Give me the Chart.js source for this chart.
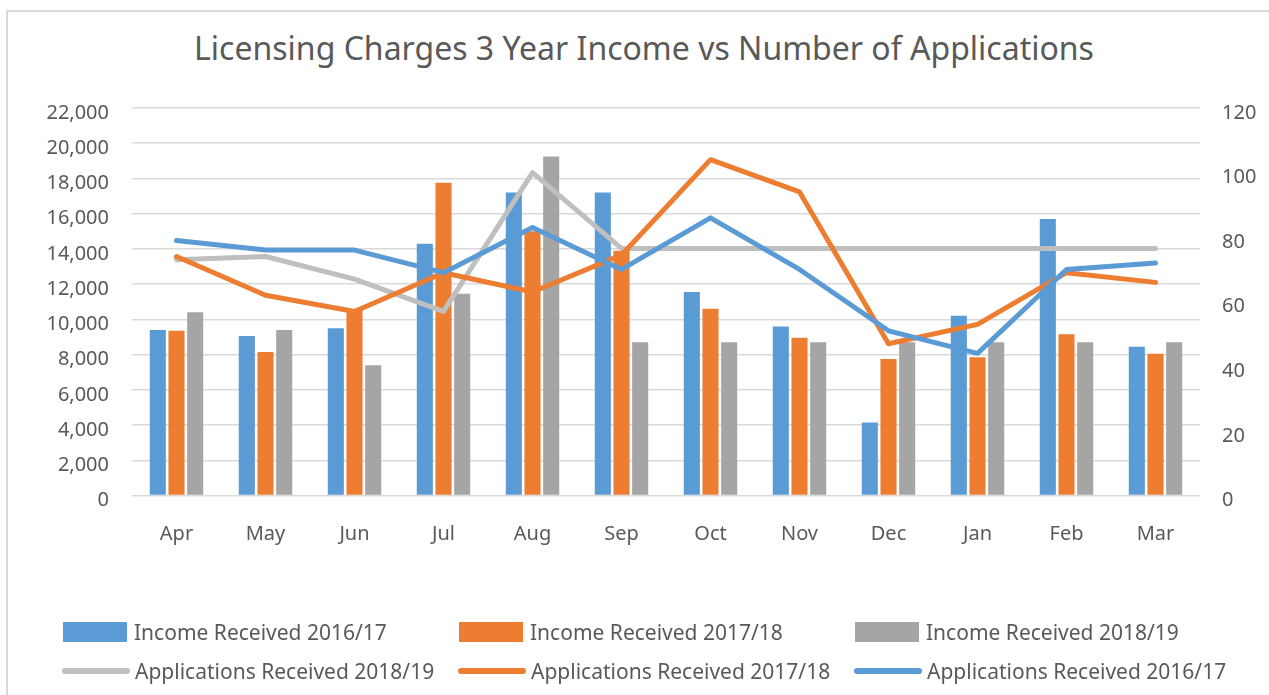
<!DOCTYPE html>
<html>
<head>
<meta charset="utf-8">
<script src="https://cdn.jsdelivr.net/npm/chart.js@4.4.0/dist/chart.umd.min.js"></script>
<style>
    html, body { margin: 0; padding: 0; background: #ffffff; }
    body { width: 1269px; height: 695px; position: relative; overflow: hidden; font-family: 'Noto Sans', sans-serif; }
    #frame { position: absolute; left: 6px; top: 10px; width: 1290px; height: 700px; border: 2px solid #d9d9d9; box-sizing: border-box; }
    #title { position: absolute; left: 144px; width: 1000px; top: 29px; text-align: center; font-size: 32px; line-height: 38px; color: #595959; white-space: nowrap; }
    #chart-wrap { position: absolute; left: 0; top: 0; width: 1269px; height: 600px; }
    #legend { position: absolute; left: 0; top: 0; width: 1269px; height: 695px; pointer-events: none; }
    .legend-item { position: absolute; display: flex; align-items: center; font-size: 21px; color: #595959; white-space: nowrap; height: 30px; }
    .swatch-box { width: 64px; height: 20px; margin-right: 7px; }
    .swatch-line { width: 68px; height: 6px; border-radius: 3px; margin-right: 5px; }
</style>
</head>
<body>
<div id="frame"></div>
<div id="title">Licensing Charges 3 Year Income vs Number of Applications</div>
<div id="chart-wrap"><canvas id="licChart" width="1269" height="600"></canvas></div>
<div id="legend"></div>
<script>
const months = ['Apr', 'May', 'Jun', 'Jul', 'Aug', 'Sep', 'Oct', 'Nov', 'Dec', 'Jan', 'Feb', 'Mar'];

const income1617 = [9400, 9050, 9500, 14300, 17200, 17200, 11550, 9600, 4150, 10200, 15700, 8450];
const income1718 = [9350, 8150, 10500, 17750, 15000, 13900, 10600, 8950, 7750, 7850, 9150, 8050];
const income1819 = [10400, 9400, 7400, 11450, 19250, 8700, 8700, 8700, 8700, 8700, 8700, 8700];

const apps1819 = [73, 74, 67, 57, 100, 76.5, 76.5, 76.5, 76.5, 76.5, 76.5, 76.5];
const apps1718 = [74, 62, 57, 69, 63, 74.5, 104, 94, 47, 53, 69, 66];
const apps1617 = [79, 76, 76, 69, 83, 70, 86, 70, 51, 44, 70, 72];

const blue = '#5b9bd5';
const orange = '#ed7d31';
const grayBar = '#a5a5a5';
const grayLine = '#bfbfbf';
const textColor = '#595959';

function barSet(label, data, color) {
    return {
        type: 'bar', label: label, data: data, yAxisID: 'y',
        backgroundColor: color, borderWidth: 0,
        barPercentage: 0.86, categoryPercentage: 0.63, order: 4
    };
}

function lineSet(label, data, color, order) {
    return {
        type: 'line', label: label, data: data, yAxisID: 'y1',
        borderColor: color, backgroundColor: color, borderWidth: 5,
        pointRadius: 0, tension: 0, borderCapStyle: 'round', borderJoinStyle: 'round',
        order: order
    };
}

const datasets = [
    barSet('Income Received 2016/17', income1617, blue),
    barSet('Income Received 2017/18', income1718, orange),
    barSet('Income Received 2018/19', income1819, grayBar),
    lineSet('Applications Received 2018/19', apps1819, grayLine, 3),
    lineSet('Applications Received 2017/18', apps1718, orange, 2),
    lineSet('Applications Received 2016/17', apps1617, blue, 1)
];

const tickFont = { family: 'Noto Sans', size: 20 };

new Chart(document.getElementById('licChart').getContext('2d'), {
    data: { labels: months, datasets: datasets },
    options: {
        responsive: false,
        animation: false,
        layout: { padding: { top: 108 } },
        plugins: {
            legend: { display: false },
            tooltip: { enabled: false },
            title: { display: false }
        },
        scales: {
            x: {
                grid: { display: false },
                border: { display: false },
                ticks: { color: textColor, font: tickFont, padding: 19 },
                afterFit: (scale) => { scale.height = 104.5; }
            },
            y: {
                position: 'left',
                min: 0, max: 22000,
                ticks: {
                    stepSize: 2000, color: textColor, font: tickFont, padding: 23, labelOffset: 5,
                    callback: (v) => v.toLocaleString('en-US')
                },
                grid: { color: '#d9d9d9', lineWidth: 1.5, drawTicks: false },
                border: { display: false },
                afterFit: (scale) => { scale.width = 132; }
            },
            y1: {
                position: 'right',
                min: 0, max: 120,
                ticks: { stepSize: 20, color: textColor, font: tickFont, padding: 22, labelOffset: 5 },
                grid: { display: false, drawTicks: false },
                border: { display: false },
                afterFit: (scale) => { scale.width = 69; }
            }
        }
    }
});

// legend laid out in a 3 x 2 grid like the original
const legendCols = [63, 459, 855];
const legendRows = [632, 671];
const legendEl = document.getElementById('legend');
datasets.forEach((ds, i) => {
    const item = document.createElement('div');
    item.className = 'legend-item';
    const row = i < 3 ? 0 : 1;
    const col = i % 3;
    const sw = document.createElement('span');
    sw.className = ds.type === 'bar' ? 'swatch-box' : 'swatch-line';
    sw.style.background = ds.type === 'bar' ? ds.backgroundColor : ds.borderColor;
    item.style.left = (legendCols[col] - (ds.type === 'bar' ? 0 : 1)) + 'px';
    item.style.top = (legendRows[row] - 15) + 'px';
    item.appendChild(sw);
    const txt = document.createElement('span');
    txt.textContent = ds.label;
    item.appendChild(txt);
    legendEl.appendChild(item);
});
</script>
</body>
</html>
